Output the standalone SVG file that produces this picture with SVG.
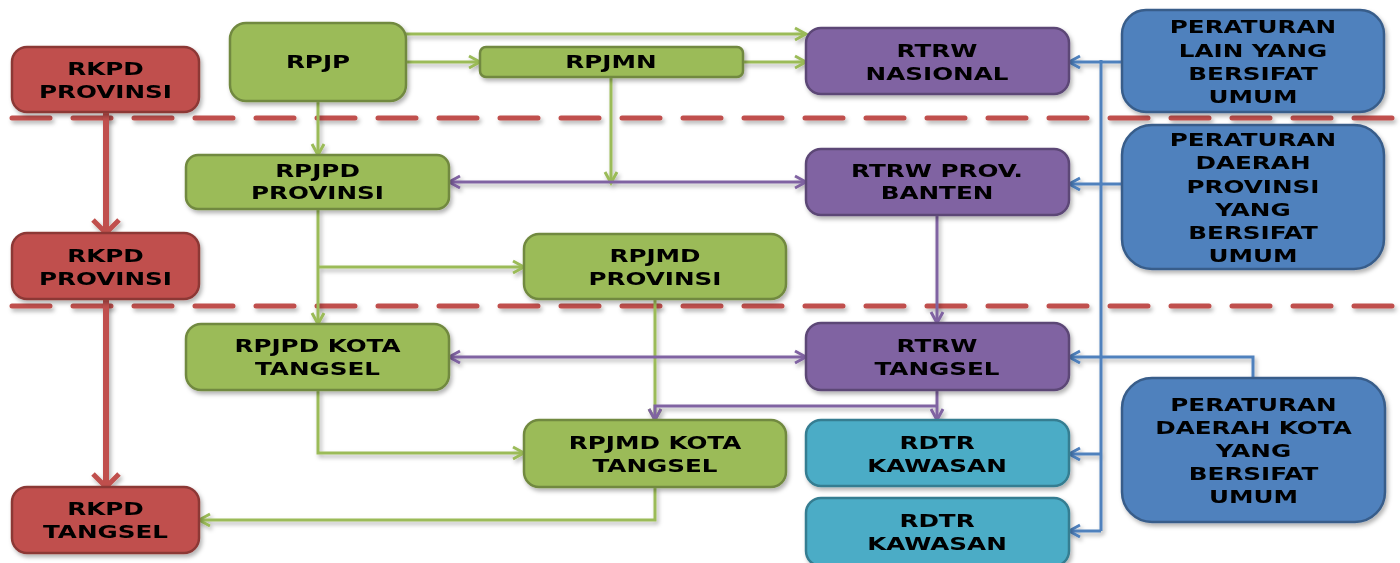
<svg xmlns="http://www.w3.org/2000/svg" width="1400" height="563" viewBox="0 0 1400 563">
<style>
.t{font-family:"DejaVu Sans",Verdana,sans-serif;font-weight:bold;font-size:17px;fill:#000;text-anchor:middle}
.box{stroke-width:2.5}
.g{fill:#9BBB59;stroke:#71893F}
.p{fill:#8064A2;stroke:#5C4776}
.b{fill:#4F81BD;stroke:#385D8A}
.c{fill:#4BACC6;stroke:#357D91}
.r{fill:#C0504D;stroke:#8C3836}
.lg{fill:none;stroke:#9BBB59;stroke-width:3}
.lp{fill:none;stroke:#8064A2;stroke-width:3}
.lb{fill:none;stroke:#4F81BD;stroke-width:3}
.lr{fill:none;stroke:#C0504D;stroke-width:6}
.dash{fill:none;stroke:#C0504D;stroke-width:5;stroke-dasharray:38 23;stroke-linecap:round}
</style>
<defs>
<filter id="sh" x="-10%" y="-10%" width="130%" height="140%">
<feDropShadow dx="2" dy="3" stdDeviation="2" flood-color="#000" flood-opacity="0.3"/>
</filter>
<marker id="ag" markerUnits="userSpaceOnUse" markerWidth="16" markerHeight="16" refX="13" refY="8" orient="auto-start-reverse"><path d="M2,2 L13,8 L2,14" fill="none" stroke="#9BBB59" stroke-width="3"/></marker>
<marker id="ap" markerUnits="userSpaceOnUse" markerWidth="16" markerHeight="16" refX="13" refY="8" orient="auto-start-reverse"><path d="M2,2 L13,8 L2,14" fill="none" stroke="#8064A2" stroke-width="3"/></marker>
<marker id="ab" markerUnits="userSpaceOnUse" markerWidth="16" markerHeight="16" refX="13" refY="8" orient="auto-start-reverse"><path d="M2,2 L13,8 L2,14" fill="none" stroke="#4F81BD" stroke-width="3"/></marker>
<marker id="ar" markerUnits="userSpaceOnUse" markerWidth="30" markerHeight="32" refX="16" refY="16" orient="auto-start-reverse"><path d="M3,3 L16,16 L3,29" fill="none" stroke="#C0504D" stroke-width="5"/></marker>
</defs>
<rect width="1400" height="563" fill="#fff"/>
<g id="separators" filter="url(#sh)">
<path class="dash" d="M12,118 H1392"/>
<path class="dash" d="M12,306 H1392"/>
</g>
<g id="connectors" filter="url(#sh)">
<path class="lg" d="M406,34 H806" marker-end="url(#ag)"/>
<path class="lg" d="M406,62 H480" marker-end="url(#ag)"/>
<path class="lg" d="M743,62 H806" marker-end="url(#ag)"/>
<path class="lg" d="M318,101 V155" marker-end="url(#ag)"/>
<path class="lg" d="M611,77 V183" marker-end="url(#ag)"/>
<path class="lg" d="M318,209 V324" marker-end="url(#ag)"/>
<path class="lg" d="M318,267 H524" marker-end="url(#ag)"/>
<path class="lg" d="M655,299 V420" marker-end="url(#ag)"/>
<path class="lg" d="M318,390 V453 H524" marker-end="url(#ag)"/>
<path class="lg" d="M655,487 V520 H199" marker-end="url(#ag)"/>
<path class="lp" d="M449,182 H806" marker-start="url(#ap)" marker-end="url(#ap)"/>
<path class="lp" d="M449,357 H806" marker-start="url(#ap)" marker-end="url(#ap)"/>
<path class="lp" d="M937,215 V323" marker-end="url(#ap)"/>
<path class="lp" d="M937,390 V420" marker-end="url(#ap)"/>
<path class="lp" d="M937,406 H655 V420" marker-end="url(#ap)"/>
<path class="lb" d="M1101,60 V531"/>
<path class="lb" d="M1122,62 H1069" marker-end="url(#ab)"/>
<path class="lb" d="M1122,184 H1069" marker-end="url(#ab)"/>
<path class="lb" d="M1101,454 H1069" marker-end="url(#ab)"/>
<path class="lb" d="M1101,531 H1069" marker-end="url(#ab)"/>
<path class="lb" d="M1253,378 V357 H1069" marker-end="url(#ab)"/>
<path class="lr" d="M106,112 V233" marker-end="url(#ar)"/>
<path class="lr" d="M106,300 V487" marker-end="url(#ar)"/>
</g>
<g id="rkpd-provinsi-1" filter="url(#sh)">
<rect class="box r" x="12" y="47" width="187" height="65" rx="15"/>
<text class="t" transform="matrix(1.45 0 0 1 105.5 0)"><tspan x="0" y="75">RKPD</tspan><tspan x="0" y="98">PROVINSI</tspan></text>
</g>
<g id="rpjp" filter="url(#sh)">
<rect class="box g" x="230" y="23" width="176" height="78" rx="16"/>
<text class="t" transform="matrix(1.45 0 0 1 318 0)"><tspan x="0" y="68">RPJP</tspan></text>
</g>
<g id="rpjmn" filter="url(#sh)">
<rect class="box g" x="480" y="47" width="263" height="30" rx="6"/>
<text class="t" transform="matrix(1.45 0 0 1 611 0)"><tspan x="0" y="68">RPJMN</tspan></text>
</g>
<g id="rtrw-nasional" filter="url(#sh)">
<rect class="box p" x="806" y="28" width="263" height="66" rx="15"/>
<text class="t" transform="matrix(1.45 0 0 1 937 0)"><tspan x="0" y="57">RTRW</tspan><tspan x="0" y="80">NASIONAL</tspan></text>
</g>
<g id="peraturan-lain" filter="url(#sh)">
<rect class="box b" x="1122" y="10" width="262" height="102" rx="24"/>
<text class="t" transform="matrix(1.45 0 0 1 1253 0)"><tspan x="0" y="33">PERATURAN</tspan><tspan x="0" y="57">LAIN YANG</tspan><tspan x="0" y="80">BERSIFAT</tspan><tspan x="0" y="103">UMUM</tspan></text>
</g>
<g id="rpjpd-provinsi" filter="url(#sh)">
<rect class="box g" x="186" y="155" width="263" height="54" rx="12"/>
<text class="t" transform="matrix(1.45 0 0 1 317.5 0)"><tspan x="0" y="177">RPJPD</tspan><tspan x="0" y="199">PROVINSI</tspan></text>
</g>
<g id="rtrw-prov-banten" filter="url(#sh)">
<rect class="box p" x="806" y="149" width="263" height="66" rx="15"/>
<text class="t" transform="matrix(1.45 0 0 1 937 0)"><tspan x="0" y="177">RTRW PROV.</tspan><tspan x="0" y="199">BANTEN</tspan></text>
</g>
<g id="peraturan-daerah-provinsi" filter="url(#sh)">
<rect class="box b" x="1122" y="125" width="262" height="144" rx="30"/>
<text class="t" transform="matrix(1.45 0 0 1 1253 0)"><tspan x="0" y="146">PERATURAN</tspan><tspan x="0" y="169">DAERAH</tspan><tspan x="0" y="193">PROVINSI</tspan><tspan x="0" y="216">YANG</tspan><tspan x="0" y="239">BERSIFAT</tspan><tspan x="0" y="262">UMUM</tspan></text>
</g>
<g id="rkpd-provinsi-2" filter="url(#sh)">
<rect class="box r" x="12" y="233" width="187" height="66" rx="15"/>
<text class="t" transform="matrix(1.45 0 0 1 105.5 0)"><tspan x="0" y="262">RKPD</tspan><tspan x="0" y="285">PROVINSI</tspan></text>
</g>
<g id="rpjmd-provinsi" filter="url(#sh)">
<rect class="box g" x="524" y="234" width="262" height="65" rx="15"/>
<text class="t" transform="matrix(1.45 0 0 1 655 0)"><tspan x="0" y="262">RPJMD</tspan><tspan x="0" y="285">PROVINSI</tspan></text>
</g>
<g id="rpjpd-kota-tangsel" filter="url(#sh)">
<rect class="box g" x="186" y="324" width="263" height="66" rx="15"/>
<text class="t" transform="matrix(1.45 0 0 1 317.5 0)"><tspan x="0" y="352">RPJPD KOTA</tspan><tspan x="0" y="375">TANGSEL</tspan></text>
</g>
<g id="rtrw-tangsel" filter="url(#sh)">
<rect class="box p" x="806" y="323" width="263" height="67" rx="15"/>
<text class="t" transform="matrix(1.45 0 0 1 937 0)"><tspan x="0" y="352">RTRW</tspan><tspan x="0" y="375">TANGSEL</tspan></text>
</g>
<g id="rpjmd-kota-tangsel" filter="url(#sh)">
<rect class="box g" x="524" y="420" width="262" height="67" rx="15"/>
<text class="t" transform="matrix(1.45 0 0 1 655 0)"><tspan x="0" y="449">RPJMD KOTA</tspan><tspan x="0" y="472">TANGSEL</tspan></text>
</g>
<g id="rdtr-kawasan-1" filter="url(#sh)">
<rect class="box c" x="806" y="420" width="263" height="66" rx="15"/>
<text class="t" transform="matrix(1.45 0 0 1 937 0)"><tspan x="0" y="449">RDTR</tspan><tspan x="0" y="472">KAWASAN</tspan></text>
</g>
<g id="rdtr-kawasan-2" filter="url(#sh)">
<rect class="box c" x="806" y="498" width="263" height="68" rx="15"/>
<text class="t" transform="matrix(1.45 0 0 1 937 0)"><tspan x="0" y="527">RDTR</tspan><tspan x="0" y="550">KAWASAN</tspan></text>
</g>
<g id="peraturan-daerah-kota" filter="url(#sh)">
<rect class="box b" x="1122" y="378" width="263" height="144" rx="30"/>
<text class="t" transform="matrix(1.45 0 0 1 1253.5 0)"><tspan x="0" y="411">PERATURAN</tspan><tspan x="0" y="434">DAERAH KOTA</tspan><tspan x="0" y="457">YANG</tspan><tspan x="0" y="480">BERSIFAT</tspan><tspan x="0" y="503">UMUM</tspan></text>
</g>
<g id="rkpd-tangsel" filter="url(#sh)">
<rect class="box r" x="12" y="487" width="187" height="66" rx="15"/>
<text class="t" transform="matrix(1.45 0 0 1 105.5 0)"><tspan x="0" y="515">RKPD</tspan><tspan x="0" y="538">TANGSEL</tspan></text>
</g>
</svg>
